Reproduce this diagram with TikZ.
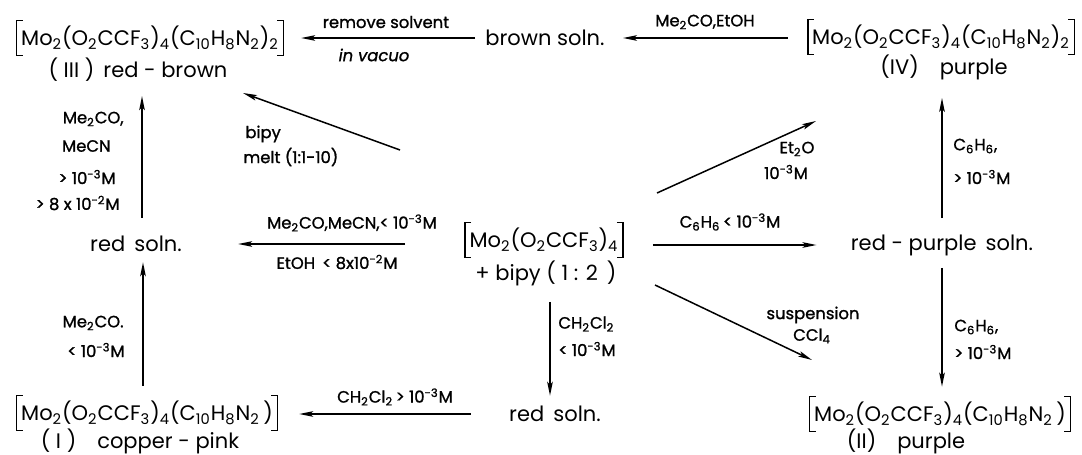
\documentclass[tikz,border=0pt]{standalone}
\usepackage{fontspec}
\setmainfont{Poppins}
\newfontfamily\labfont{Poppins}[FakeBold=1.2]
\usetikzlibrary{arrows.meta}
\newcommand\sbs[1]{\textsubscript{#1}}
\newcommand\sps[1]{\textsuperscript{#1}}
\newcommand\bkt[1]{%
  \draw[bk] ([xshift=3pt]#1.north west) -- (#1.north west) -- (#1.south west) -- ([xshift=3pt]#1.south west);
  \draw[bk] ([xshift=-3pt]#1.north east) -- (#1.north east) -- (#1.south east) -- ([xshift=-3pt]#1.south east);}
\begin{document}
\begin{tikzpicture}[x=0.5pt,y=-0.5pt,
  main/.style={font=\fontsize{10.5}{12}\selectfont, inner sep=1pt},
  form/.style={main, inner xsep=2pt, inner ysep=0pt, minimum height=17pt},
  lab/.style={font=\labfont\fontsize{8.2}{9}\selectfont, inner sep=0.5pt},
  bk/.style={line width=0.7pt},
  arr/.style={line width=0.75pt, -{Stealth[length=7pt,width=2.8pt,inset=1.5pt]}},
  ]
\useasboundingbox (0,0) rectangle (1082,455);
% compounds and solutions
\node[form] (f3) at (150,38) {Mo\sbs2(O\sbs2CCF\sbs3)\sbs4(C\sbs{10}H\sbs8N\sbs2)\sbs2};
\bkt{f3}
\node[main] (t3) at (138,70) {( III )\, red - brown};
\node[main] (brown) at (545,38) {brown soln.};
\node[form] (f4) at (941,37) {Mo\sbs2(O\sbs2CCF\sbs3)\sbs4(C\sbs{10}H\sbs8N\sbs2)\sbs2};
\bkt{f4}
\node[main] (t4) at (944,67) {(IV)\quad purple};
\node[main] (redL) at (136,244) {red\, soln.};
\node[form] (f0) at (544,240) {Mo\sbs2(O\sbs2CCF\sbs3)\sbs4};
\bkt{f0}
\node[main] (bipy) at (546,273) {+ bipy ( 1 : 2\, )};
\node[main] (rp) at (942,245) {red - purple\, soln.};
\node[main] (redB) at (555,414) {red\, soln.};
\node[form] (f1) at (147,413) {Mo\sbs2(O\sbs2CCF\sbs3)\sbs4(C\sbs{10}H\sbs8N\sbs2\,)};
\bkt{f1}
\node[main] (t1) at (140,441) {( I )\quad copper - pink};
\node[form] (f2) at (940,414) {Mo\sbs2(O\sbs2CCF\sbs3)\sbs4(C\sbs{10}H\sbs8N\sbs2\,)};
\bkt{f2}
\node[main] (t2) at (906,441) {(II)\quad purple};
% free ends of the slanted connectors
\coordinate (d1s) at (400,150);
\coordinate (d1e) at (243,93);
\coordinate (d2s) at (657,193);
\coordinate (d2e) at (816,121);
\coordinate (d3s) at (655,285);
\coordinate (d3e) at (812,360);
% connectors
\draw[arr, shorten <=4pt, shorten >=9pt] (brown.west) -- (f3.east |- brown.west);
\draw[arr, shorten <=10pt, shorten >=8pt] (f4.west |- brown.east) -- (brown.east);
\draw[arr, shorten <=8pt, shorten >=6pt] ([xshift=3pt]redL.north) -- ([xshift=3pt]redL.north |- t3.south);
\draw[arr] (d1s) -- (d1e);
\draw[arr, shorten <=30pt, shorten >=27pt] (f0.west |- redL.east) -- (redL.east);
\draw[arr, shorten <=15pt, shorten >=16pt] (f0.east |- rp.west) -- (rp.west);
\draw[arr] (d2s) -- (d2e);
\draw[arr, shorten <=7pt, shorten >=8pt] (rp.north) -- (rp.north |- t4.south);
\draw[arr, shorten <=5pt, shorten >=5pt] (rp.south) -- (rp.south |- f2.north);
\draw[arr] (d3s) -- (d3e);
\draw[arr, shorten <=7pt, shorten >=4pt] ([xshift=-2.5pt]bipy.south -| redB.north) -- ([xshift=-2.5pt]redB.north);
\draw[arr, shorten <=18pt, shorten >=11pt] (redB.west) -- (f1.east |- redB.west);
\draw[arr, shorten <=5pt, shorten >=4pt] ([xshift=3.5pt]f1.north -| redL.south) -- ([xshift=3.5pt]redL.south);
% labels
\node[lab] (l1) at (386,22) {remove solvent};
\node[lab, font=\labfont\fontsize{8.2}{9}\selectfont\itshape] (l2) at (374,55) {in vacuo};
\node[lab] (l3) at (705,22) {Me\sbs2CO,EtOH};
\node[lab, anchor=east] (l4) at (125,119) {Me\sbs2CO,};
\node[lab, anchor=east] (l5) at (112,146) {MeCN};
\node[lab, anchor=east] (l6) at (117,177) {> 10\sps{-3}M};
\node[lab, anchor=east] (l7) at (121,203) {> 8 x 10\sps{-2}M};
\node[lab, anchor=west] (l8) at (244,134) {bipy};
\node[lab, anchor=west] (l9) at (242,157) {melt (1:1-10)};
\node[lab] (l10) at (352,223) {Me\sbs2CO,MeCN,< 10\sps{-3}M};
\node[lab] (l11) at (337,262) {EtOH\, < 8x10\sps{-2}M};
\node[lab] (l12) at (730,222) {C\sbs6H\sbs6\,< 10\sps{-3}M};
\node[lab] (l13) at (797,149) {Et\sbs2O};
\node[lab] (l14) at (786,172) {10\sps{-3}M};
\node[lab, anchor=west] (l15) at (952,146) {C\sbs6H\sbs6,};
\node[lab, anchor=west] (l16) at (952,177) {> 10\sps{-3}M};
\node[lab] (l17) at (813,315) {suspension};
\node[lab] (l18) at (812,336) {CCl\sbs4};
\node[lab, anchor=west] (l19) at (953,327) {C\sbs6H\sbs6,};
\node[lab, anchor=west] (l20) at (953,352) {> 10\sps{-3}M};
\node[lab, anchor=west] (l21) at (557,324) {CH\sbs2Cl\sbs2};
\node[lab, anchor=west] (l22) at (557,349) {< 10\sps{-3}M};
\node[lab] (l23) at (395,397) {CH\sbs2Cl\sbs2\,> 10\sps{-3}M};
\node[lab, anchor=east] (l24) at (125,323) {Me\sbs2CO.};
\node[lab, anchor=east] (l25) at (126,350) {< 10\sps{-3}M};
\end{tikzpicture}
\end{document}
